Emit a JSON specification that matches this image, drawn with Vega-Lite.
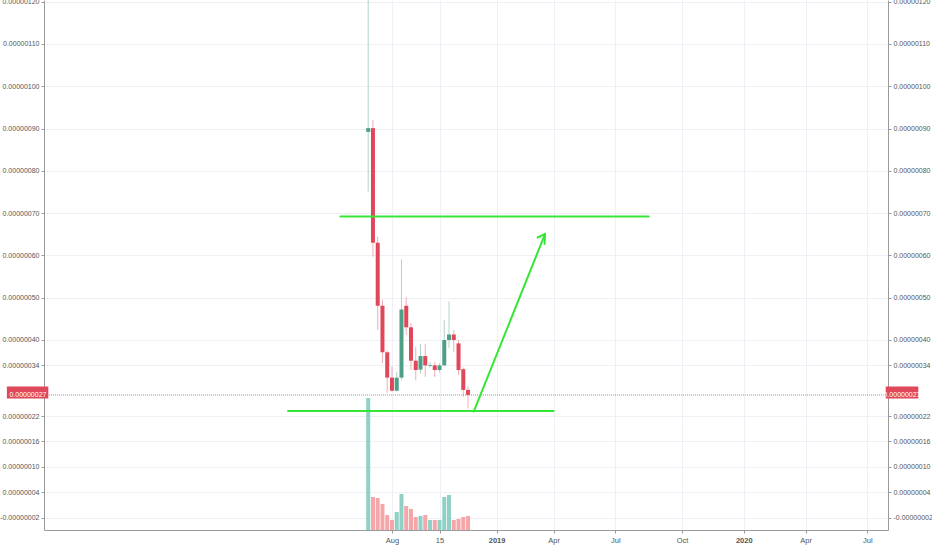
{
  "$schema": "https://vega.github.io/schema/vega-lite/v6.json",
  "width": 844,
  "height": 530,
  "autosize": "none",
  "padding": {"left": 44, "top": 0, "right": 44, "bottom": 20},
  "background": "white",
  "config": {
    "view": {"stroke": null},
    "axis": {
      "labelFont": "Liberation Sans",
      "labelFontSize": 7,
      "labelColor": "#555555",
      "domainColor": "#9a9a9a",
      "tickColor": "#9a9a9a",
      "tickSize": 3,
      "labelPadding": 2,
      "gridColor": "#eef0f5",
      "gridWidth": 1,
      "title": null
    }
  },
  "datasets": {
    "candles": [
      {"date": "2018-07-02T00:00", "open": 0.000000892, "high": 0.00000135, "low": 0.000000751, "close": 0.000000901, "volume": 132},
      {"date": "2018-07-09T00:00", "open": 0.000000901, "high": 0.00000092, "low": 0.000000597, "close": 0.00000063, "volume": 33},
      {"date": "2018-07-16T00:00", "open": 0.00000063, "high": 0.000000644, "low": 0.000000424, "close": 0.000000481, "volume": 32},
      {"date": "2018-07-23T00:00", "open": 0.000000481, "high": 0.000000495, "low": 0.000000346, "close": 0.000000371, "volume": 26},
      {"date": "2018-07-30T00:00", "open": 0.000000371, "high": 0.000000375, "low": 0.000000275, "close": 0.000000311, "volume": 15},
      {"date": "2018-08-06T00:00", "open": 0.000000311, "high": 0.000000337, "low": 0.000000278, "close": 0.00000028, "volume": 10},
      {"date": "2018-08-13T00:00", "open": 0.00000028, "high": 0.000000325, "low": 0.000000278, "close": 0.000000311, "volume": 18},
      {"date": "2018-08-20T00:00", "open": 0.000000311, "high": 0.000000591, "low": 0.000000305, "close": 0.000000472, "volume": 36},
      {"date": "2018-08-27T00:00", "open": 0.000000481, "high": 0.000000501, "low": 0.000000412, "close": 0.00000043, "volume": 24},
      {"date": "2018-09-03T00:00", "open": 0.00000043, "high": 0.00000044, "low": 0.000000329, "close": 0.000000351, "volume": 21},
      {"date": "2018-09-10T00:00", "open": 0.000000351, "high": 0.000000384, "low": 0.000000305, "close": 0.000000329, "volume": 13},
      {"date": "2018-09-17T00:00", "open": 0.00000033, "high": 0.000000391, "low": 0.000000321, "close": 0.000000362, "volume": 14},
      {"date": "2018-09-24T00:00", "open": 0.000000362, "high": 0.000000391, "low": 0.000000313, "close": 0.00000034, "volume": 15},
      {"date": "2018-10-01T00:00", "open": 0.000000339, "high": 0.000000348, "low": 0.000000333, "close": 0.000000341, "volume": 10},
      {"date": "2018-10-08T00:00", "open": 0.00000034, "high": 0.000000348, "low": 0.000000313, "close": 0.000000329, "volume": 10},
      {"date": "2018-10-15T00:00", "open": 0.000000329, "high": 0.000000345, "low": 0.000000323, "close": 0.00000034, "volume": 10},
      {"date": "2018-10-22T00:00", "open": 0.00000034, "high": 0.000000447, "low": 0.000000338, "close": 0.0000004, "volume": 33},
      {"date": "2018-10-29T00:00", "open": 0.0000004, "high": 0.000000491, "low": 0.000000381, "close": 0.000000413, "volume": 35},
      {"date": "2018-11-05T00:00", "open": 0.000000413, "high": 0.000000424, "low": 0.000000372, "close": 0.0000004, "volume": 10},
      {"date": "2018-11-12T00:00", "open": 0.000000392, "high": 0.0000004, "low": 0.000000317, "close": 0.000000329, "volume": 11},
      {"date": "2018-11-19T00:00", "open": 0.000000331, "high": 0.000000335, "low": 0.000000266, "close": 0.000000282, "volume": 13},
      {"date": "2018-11-26T00:00", "open": 0.000000282, "high": 0.00000029, "low": 0.000000238, "close": 0.00000027, "volume": 14}
    ],
    "drawings": [
      {"from": "2018-05-22T00:00", "to": "2019-08-19T00:00", "p1": 0.000000692, "p2": 0.000000692},
      {"from": "2018-03-06T00:00", "to": "2019-04-01T00:00", "p1": 0.000000232, "p2": 0.000000232},
      {"from": "2018-12-04T12:00", "to": "2019-03-19T10:00", "p1": 0.000000231, "p2": 0.0000006507},
      {"from": "2019-03-08T12:00", "to": "2019-03-19T10:00", "p1": 0.0000006424, "p2": 0.0000006507},
      {"from": "2019-03-18T14:00", "to": "2019-03-19T10:00", "p1": 0.000000627, "p2": 0.0000006507}
    ],
    "last": [
      {"price": 0.00000027}
    ]
  },
  "resolve": {"scale": {"y": "independent"}},
  "layer": [
    {
      "data": {"name": "candles"},
      "mark": {"type": "rule", "clip": true, "strokeWidth": 1, "opacity": 0.45},
      "encoding": {
        "x": {
          "field": "date",
          "type": "temporal",
          "title": null,
          "scale": {"domain": [{"year": 2017, "month": 3, "date": 19}, {"year": 2020, "month": 7, "date": 29}]},
          "axis": {
            "orient": "bottom",
            "grid": true,
            "labelFontSize": 7.5,
            "labelPadding": 3,
            "values": [
              {"year": 2018, "month": 8, "date": 6},
              {"year": 2018, "month": 10, "date": 15},
              {"year": 2019, "month": 1, "date": 7},
              {"year": 2019, "month": 4, "date": 1},
              {"year": 2019, "month": 7, "date": 1},
              {"year": 2019, "month": 10, "date": 7},
              {"year": 2020, "month": 1, "date": 6},
              {"year": 2020, "month": 4, "date": 6},
              {"year": 2020, "month": 7, "date": 6}
            ],
            "labelExpr": "month(datum.value) === 0 ? timeFormat(datum.value, '%Y') : (date(datum.value) > 7 ? timeFormat(datum.value, '%-d') : timeFormat(datum.value, '%b'))",
            "labelFontWeight": {"condition": {"test": "month(datum.value) === 0", "value": "bold"}, "value": "normal"}
          }
        },
        "y": {
          "field": "low",
          "type": "quantitative",
          "scale": {"domain": [-0.0000000493, 0.000001204], "nice": false, "zero": false},
          "axis": {
            "orient": "left",
            "grid": true,
            "labelExpr": "replace(format(datum.value, '.8f'), '\u2212', '-')",
            "values": [-0.00000002, 0.00000004, 0.0000001, 0.00000016, 0.00000022, 0.00000034, 0.0000004, 0.0000005, 0.0000006, 0.0000007, 0.0000008, 0.0000009, 0.000001, 0.0000011, 0.0000012]
          }
        },
        "y2": {"field": "high"},
        "color": {"condition": {"test": "datum.close >= datum.open", "value": "#4f9f88"}, "value": "#e0475a"}
      }
    },
    {
      "data": {"name": "candles"},
      "mark": {"type": "bar", "size": 4},
      "encoding": {
        "x": {"field": "date", "type": "temporal", "title": null},
        "y": {
          "field": "open",
          "type": "quantitative",
          "scale": {"domain": [-0.0000000493, 0.000001204], "nice": false, "zero": false},
          "axis": {
            "orient": "right",
            "grid": false,
            "labelExpr": "replace(format(datum.value, '.8f'), '\u2212', '-')",
            "values": [-0.00000002, 0.00000004, 0.0000001, 0.00000016, 0.00000022, 0.00000034, 0.0000004, 0.0000005, 0.0000006, 0.0000007, 0.0000008, 0.0000009, 0.000001, 0.0000011, 0.0000012]
          }
        },
        "y2": {"field": "close"},
        "color": {"condition": {"test": "datum.close >= datum.open", "value": "#4f9f88"}, "value": "#e0475a"}
      }
    },
    {
      "data": {"name": "candles"},
      "mark": {"type": "bar", "size": 4},
      "encoding": {
        "x": {"field": "date", "type": "temporal", "title": null},
        "y": {
          "field": "volume",
          "type": "quantitative",
          "scale": {"domain": [0, 530], "nice": false},
          "axis": null
        },
        "color": {"condition": {"test": "datum.close >= datum.open", "value": "#8fd1c6"}, "value": "#f5a6a9"}
      }
    },
    {
      "data": {"name": "last"},
      "mark": {"type": "rule", "color": "#ec6f7b", "strokeDash": [1, 1], "strokeWidth": 1},
      "encoding": {
        "y": {
          "field": "price",
          "type": "quantitative",
          "scale": {"domain": [-0.0000000493, 0.000001204], "nice": false, "zero": false},
          "axis": null
        }
      }
    },
    {
      "data": {"name": "drawings"},
      "mark": {"type": "rule", "color": "#36e636", "strokeWidth": 2, "strokeCap": "round"},
      "encoding": {
        "x": {"field": "from", "type": "temporal", "title": null},
        "x2": {"field": "to"},
        "y": {
          "field": "p1",
          "type": "quantitative",
          "scale": {"domain": [-0.0000000493, 0.000001204], "nice": false, "zero": false},
          "axis": null
        },
        "y2": {"field": "p2"}
      }
    },
    {
      "data": {"name": "last"},
      "mark": {"type": "bar", "orient": "horizontal", "size": 12, "color": "#e0475a"},
      "encoding": {
        "x": {"datum": {"year": 2017, "month": 1, "date": 16}, "type": "temporal"},
        "x2": {"datum": {"year": 2017, "month": 3, "date": 18}},
        "y": {
          "field": "price",
          "type": "quantitative",
          "scale": {"domain": [-0.0000000493, 0.000001204], "nice": false, "zero": false},
          "axis": null
        }
      }
    },
    {
      "data": {"name": "last"},
      "mark": {"type": "bar", "orient": "horizontal", "size": 12, "color": "#e0475a"},
      "encoding": {
        "x": {"datum": {"year": 2020, "month": 8, "date": 2}, "type": "temporal"},
        "x2": {"datum": {"year": 2020, "month": 9, "date": 19}},
        "y": {
          "field": "price",
          "type": "quantitative",
          "scale": {"domain": [-0.0000000493, 0.000001204], "nice": false, "zero": false},
          "axis": null
        }
      }
    },
    {
      "data": {"name": "last"},
      "mark": {"type": "text", "font": "Liberation Sans", "fontSize": 7, "color": "white", "align": "center", "baseline": "middle"},
      "encoding": {
        "x": {"datum": {"year": 2017, "month": 2, "date": 16}, "type": "temporal"},
        "y": {
          "field": "price",
          "type": "quantitative",
          "scale": {"domain": [-0.0000000493, 0.000001204], "nice": false, "zero": false},
          "axis": null
        },
        "text": {"field": "price", "type": "quantitative", "format": ".8f"}
      }
    },
    {
      "data": {"name": "last"},
      "mark": {"type": "text", "font": "Liberation Sans", "fontSize": 7, "color": "white", "align": "center", "baseline": "middle"},
      "encoding": {
        "x": {"datum": {"year": 2020, "month": 8, "date": 26}, "type": "temporal"},
        "y": {
          "field": "price",
          "type": "quantitative",
          "scale": {"domain": [-0.0000000493, 0.000001204], "nice": false, "zero": false},
          "axis": null
        },
        "text": {"field": "price", "type": "quantitative", "format": ".8f"}
      }
    }
  ]
}
